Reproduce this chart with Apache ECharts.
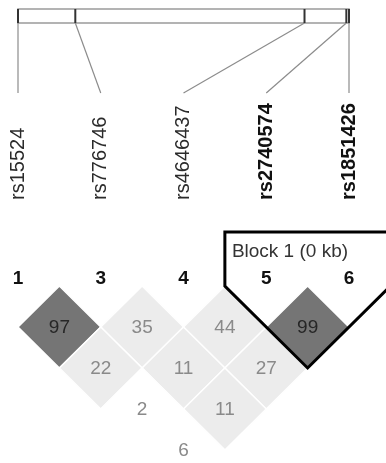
<!DOCTYPE html>
<html>
<head>
<meta charset="utf-8">
<script src="https://cdn.jsdelivr.net/npm/echarts@6/dist/echarts.min.js"></script>
<style>
  html, body { margin: 0; padding: 0; background: #fff; }
  #c { width: 386px; height: 463px; }
</style>
</head>
<body>
<div id="c"></div>
<script>
// Markers displayed in the LD plot (marker 2 was filtered out)
const markerNumbers = [1, 3, 4, 5, 6];
const markerNames = ['rs15524', 'rs776746', 'rs4646437', 'rs2740574', 'rs1851426'];
// Relative physical position of each marker along the region, in kb
const markerKb = [0, 23.7, 118.5, 135.8, 136.9];

// Pairwise D' (x100): first marker index, second marker index, value
const pairFirst  = [0, 1, 2, 3, 0, 1, 2, 0, 1, 0];
const pairSecond = [1, 2, 3, 4, 2, 3, 4, 3, 4, 4];
const pairDprime = [97, 35, 44, 99, 22, 11, 27, 2, 11, 6];
// Shading class of each cell: 2 = strong LD, 1 = moderate, 0 = uninformative
const pairShade  = [2, 1, 1, 2, 1, 1, 1, 0, 1, 0];

// Haplotype blocks (marker index ranges)
const blockStart = [3];
const blockEnd = [4];
const blockLabels = ['Block 1 (0 kb)'];

const FONT = '"Liberation Sans", Arial, sans-serif';
const nMarkers = markerNames.length;
const kbMax = markerKb[nMarkers - 1];
const idxToKb = i => kbMax * i / (nMarkers - 1);
const inBlock = i => blockStart.some((s, b) => i >= s && i <= blockEnd[b]);

const shadeFill = ['#ffffff', '#ececec', '#757575'];
const shadeText = ['#8a8a8a', '#8a8a8a', '#262626'];

const pairs = pairDprime.map((v, k) => [pairFirst[k], pairSecond[k], v, pairShade[k]]);
const blocks = blockStart.map((s, b) => [s, blockEnd[b], b]);

const chart = echarts.init(document.getElementById('c'), null, { renderer: 'canvas' });

const hiddenAxis = { show: false, axisLine: { onZero: false } };

chart.setOption({
  animation: false,
  backgroundColor: '#ffffff',
  grid: [
    { left: 18, top: 9, width: 331, height: 84 },
    { left: 18, top: 245, width: 331, height: 205 }
  ],
  xAxis: [
    Object.assign({ gridIndex: 0, type: 'value', min: 0, max: kbMax }, hiddenAxis),
    {
      gridIndex: 1, type: 'value', min: 0, max: nMarkers - 1, interval: 1,
      position: 'top',
      axisLine: { show: false, onZero: false }, axisTick: { show: false }, splitLine: { show: false },
      axisLabel: {
        rotate: -90, margin: 45,
        formatter: v => {
          const i = Math.round(v);
          return (inBlock(i) ? '{b|' : '{n|') + markerNames[i] + '}';
        },
        rich: {
          n: { fontFamily: FONT, fontSize: 20, color: '#2b2b2b' },
          b: { fontFamily: FONT, fontSize: 20, fontWeight: 'bold', color: '#111111' }
        }
      }
    },
    {
      gridIndex: 1, type: 'value', min: 0, max: nMarkers - 1, interval: 1,
      position: 'top', offset: -45,
      axisLine: { show: false, onZero: false }, axisTick: { show: false }, splitLine: { show: false },
      axisLabel: {
        margin: 2, fontFamily: FONT, fontSize: 19, fontWeight: 'bold', color: '#111111',
        formatter: v => String(markerNumbers[Math.round(v)])
      }
    }
  ],
  yAxis: [
    Object.assign({ gridIndex: 0, type: 'value', min: 0, max: 6 }, hiddenAxis),
    Object.assign({ gridIndex: 1, type: 'value', min: -1, max: 4, inverse: true }, hiddenAxis)
  ],
  series: [
    // Physical map bar
    {
      type: 'custom', xAxisIndex: 0, yAxisIndex: 0, clip: false, z: 1,
      data: [[0, kbMax]],
      renderItem: (params, api) => {
        const a = api.coord([api.value(0), 6]);
        const b = api.coord([api.value(1), 5]);
        return {
          type: 'rect',
          shape: { x: a[0], y: a[1], width: b[0] - a[0], height: b[1] - a[1] },
          style: { fill: '#ffffff', stroke: '#9a9a9a', lineWidth: 1.5 }
        };
      }
    },
    // Marker ticks on the map and connectors down to the evenly spaced labels
    {
      type: 'custom', xAxisIndex: 0, yAxisIndex: 0, clip: false, z: 2,
      data: markerKb.map((kb, i) => [kb, i]),
      renderItem: (params, api) => {
        const kb = api.value(0);
        const i = api.value(1);
        const top = api.coord([kb, 6]);
        const bot = api.coord([kb, 5]);
        const lab = api.coord([idxToKb(i), 0]);
        return {
          type: 'group',
          children: [
            {
              type: 'line',
              shape: { x1: bot[0], y1: bot[1], x2: lab[0], y2: lab[1] },
              style: { stroke: '#8c8c8c', lineWidth: 1.2 }
            },
            {
              type: 'line',
              shape: { x1: top[0], y1: top[1], x2: bot[0], y2: bot[1] },
              style: { stroke: '#333333', lineWidth: 2 }
            }
          ]
        };
      }
    },
    // LD diamonds
    {
      type: 'custom', xAxisIndex: 1, yAxisIndex: 1, clip: false, z: 3,
      data: pairs,
      renderItem: (params, api) => {
        const i = api.value(0), j = api.value(1), v = api.value(2), s = api.value(3);
        const cx = (i + j) / 2, d = j - i;
        const pts = [
          api.coord([cx, d - 1]),
          api.coord([cx + 0.5, d]),
          api.coord([cx, d + 1]),
          api.coord([cx - 0.5, d])
        ];
        const c = api.coord([cx, d]);
        return {
          type: 'group',
          children: [
            {
              type: 'polygon',
              shape: { points: pts },
              style: { fill: shadeFill[s], stroke: '#ffffff', lineWidth: 1.5 }
            },
            {
              type: 'text',
              x: c[0], y: c[1] + 1,
              style: {
                text: String(v), align: 'center', verticalAlign: 'middle',
                font: '19px ' + FONT, fill: shadeText[s]
              }
            }
          ]
        };
      }
    },
    // Block outline and label
    {
      type: 'custom', xAxisIndex: 1, yAxisIndex: 1, clip: false, z: 4,
      data: blocks,
      renderItem: (params, api) => {
        const s = api.value(0), e = api.value(1), b = api.value(2);
        const topRow = -1.32;
        const pts = [
          api.coord([s - 0.5, topRow]),
          api.coord([s - 0.5, 0]),
          api.coord([(s + e) / 2, e - s + 1]),
          api.coord([e + 0.5, 0]),
          api.coord([e + 0.5, topRow])
        ];
        return {
          type: 'group',
          children: [
            {
              type: 'polygon',
              shape: { points: pts },
              style: { fill: null, stroke: '#000000', lineWidth: 3, lineJoin: 'miter' }
            },
            {
              type: 'text',
              x: pts[0][0] + 7, y: pts[0][1] + 20,
              style: {
                text: blockLabels[b], align: 'left', verticalAlign: 'middle',
                font: '19px ' + FONT, fill: '#333333'
              }
            }
          ]
        };
      }
    }
  ]
});
</script>
</body>
</html>
